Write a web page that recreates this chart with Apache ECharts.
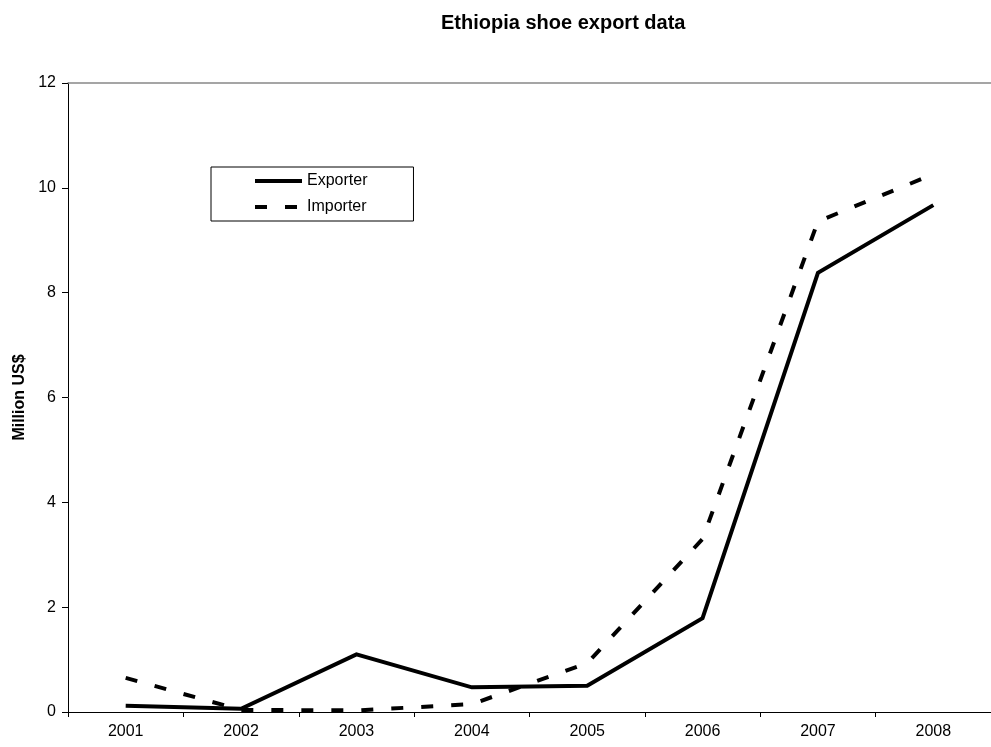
<!DOCTYPE html>
<html>
<head>
<meta charset="utf-8">
<script src="https://cdn.jsdelivr.net/npm/echarts@6/dist/echarts.min.js"></script>
<style>
html,body{margin:0;padding:0;background:#fff;}
#c{width:991px;height:747px;}
</style>
</head>
<body>
<div id="c"></div>
<script>
var years = ['2001','2002','2003','2004','2005','2006','2007','2008'];
var exporter = [0.12, 0.06, 1.10, 0.47, 0.50, 1.79, 8.38, 9.67];
var importer = [0.65, 0.04, 0.03, 0.15, 0.93, 3.30, 9.36, 10.26];
var yTicks = [0, 2, 4, 6, 8, 10, 12];

var font = '"Liberation Sans", Arial, sans-serif';
var chart = echarts.init(document.getElementById('c'), null, {renderer: 'canvas'});
chart.setOption({
  animation: false,
  backgroundColor: '#ffffff',
  title: {
    text: 'Ethiopia shoe export data',
    left: 436, top: 8,
    textStyle: {fontFamily: font, fontSize: 20, fontWeight: 'bold', color: '#000'}
  },
  legend: {
    orient: 'vertical',
    left: 211, top: 167,
    padding: [6, 46, 6, 42],
    itemGap: 10,
    itemWidth: 47, itemHeight: 16,
    borderColor: '#000', borderWidth: 1,
    itemStyle: {opacity: 0, borderWidth: 0},
    lineStyle: {width: 4, cap: 'butt'},
    textStyle: {fontFamily: font, fontSize: 16, color: '#000'},
    data: ['Exporter', 'Importer']
  },
  grid: {left: 68, top: 83, right: -10, bottom: 35, containLabel: false},
  xAxis: [{
    type: 'category',
    data: years,
    boundaryGap: true,
    axisLine: {lineStyle: {color: '#000', width: 1}},
    axisTick: {show: true, length: 5, inside: false, lineStyle: {color: '#000'}},
    axisLabel: {fontFamily: font, fontSize: 16, color: '#000', margin: 12},
    splitLine: {show: false}
  }, {
    type: 'category',
    data: years,
    position: 'top',
    axisLine: {lineStyle: {color: '#888', width: 1.5}},
    axisTick: {show: false},
    axisLabel: {show: false},
    splitLine: {show: false}
  }],
  yAxis: {
    type: 'value',
    min: yTicks[0], max: yTicks[yTicks.length - 1], interval: 2,
    name: 'Million US$',
    nameLocation: 'middle',
    nameRotate: 90,
    nameGap: 38,
    nameTextStyle: {fontFamily: font, fontSize: 16, fontWeight: 'bold', color: '#000'},
    axisLine: {show: true, lineStyle: {color: '#000', width: 1}},
    axisTick: {show: true, length: 6, lineStyle: {color: '#000'}},
    axisLabel: {fontFamily: font, fontSize: 16, color: '#000', margin: 12},
    splitLine: {show: false}
  },
  series: [{
    name: 'Exporter',
    type: 'line',
    data: exporter,
    symbol: 'none',
    lineStyle: {color: '#000', width: 4, type: 'solid', cap: 'butt', join: 'miter'},
    itemStyle: {color: '#000'}
  }, {
    name: 'Importer',
    type: 'line',
    data: importer,
    symbol: 'none',
    lineStyle: {color: '#000', width: 4, type: [12, 18], cap: 'butt', join: 'miter'},
    itemStyle: {color: '#000'}
  }]
});
</script>
</body>
</html>
